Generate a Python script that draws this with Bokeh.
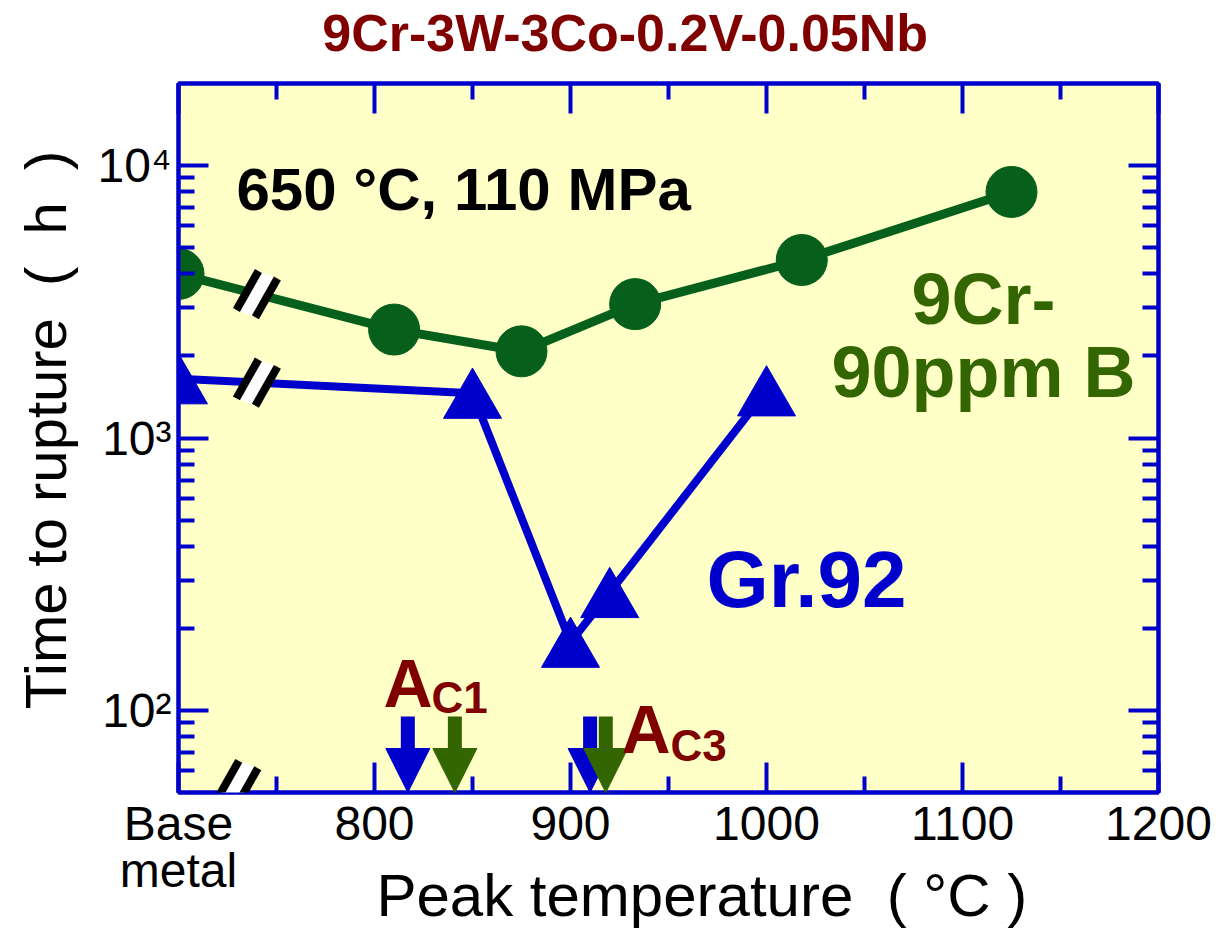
import math
from bokeh.plotting import figure
from bokeh.models import (FixedTicker, LinearAxis, LogAxis, Label, Arrow,
                          NormalHead, PolyAnnotation)
from bokeh.embed import file_html
from bokeh.resources import INLINE

# ---------------- data ----------------
green_temp = [700, 810, 875, 933, 1018, 1125]     # 9Cr-90ppm B (700 = base metal)
green_life = [4000, 2500, 2080, 3100, 4500, 8000]
blue_temp = [700, 850, 900, 920, 1000]             # Gr.92 (700 = base metal)
blue_life = [1650, 1460, 178, 271, 1490]
ac1_temp = [817, 841]   # [Gr.92, 9Cr-90ppm B]
ac3_temp = [910, 918]   # [Gr.92, 9Cr-90ppm B]
arrow_top = 95
x_major = [700, 800, 900, 1000, 1100, 1200]
x_tick_labels = ["Base\nmetal", "800", "900", "1000", "1100", "1200"]
x_minor = [750, 850, 950, 1050, 1150]
y_major = [100, 1000, 10000]
y_tick_labels = ["10²", "10³", "10⁴"]
y_minor = [60, 70, 80, 90, 200, 300, 400, 500, 600, 700, 800, 900,
           2000, 3000, 4000, 5000, 6000, 7000, 8000, 9000]

title_text = "9Cr-3W-3Co-0.2V-0.05Nb"
cond_text = "650 °C, 110 MPa"
NB = "\u00a0"
x_label = NB * 4 + "Peak temperature" + NB * 2 + "(" + NB + "°C" + NB + ")"
y_label = NB + "Time to rupture" + NB * 2 + "(" + NB * 2 + "h" + NB * 2 + ")"

# ---------------- style ----------------
BLUE = "#0000CC"
GREEN = "#065F1B"
OLIVE = "#336600"
DARKRED = "#800000"
BG = "#FFFFC8"
FONT = "Liberation Sans"

W, H = 1226, 934
FL, FT, FR, FB = 178, 81, 68, 142
FW, FH = W - FL - FR, H - FT - FB
X0, X1 = 700, 1200
Y0, Y1 = 50, 20000
L0, L1 = math.log10(Y0), math.log10(Y1)


def x_to_px(x):
    return FL + (x - X0) / (X1 - X0) * FW


def px_to_x(px):
    return X0 + (px - FL) / FW * (X1 - X0)


def y_to_px(y):
    return FT + (L1 - math.log10(y)) / (L1 - L0) * FH


def px_to_y(py):
    return 10 ** (L1 - (py - FT) / FH * (L1 - L0))


p = figure(width=W, height=H, x_range=(X0, X1), y_range=(Y0, Y1),
           y_axis_type="log", output_backend="svg", toolbar_location=None,
           title=None,
           min_border_left=FL, min_border_right=FR, min_border_top=FT,
           min_border_bottom=FB)
p.background_fill_color = BG
p.border_fill_color = "white"
p.outline_line_color = BLUE
p.outline_line_width = 4
p.xgrid.grid_line_color = None
p.ygrid.grid_line_color = None

xt = FixedTicker(ticks=x_major, minor_ticks=x_minor)
yt = FixedTicker(ticks=y_major, minor_ticks=y_minor)


def style_axis(ax):
    ax.axis_line_color = BLUE
    ax.axis_line_width = 4
    ax.major_tick_line_color = BLUE
    ax.major_tick_line_width = 4
    ax.major_tick_in = 30
    ax.major_tick_out = 0
    ax.minor_tick_line_color = BLUE
    ax.minor_tick_line_width = 4
    ax.minor_tick_in = 16
    ax.minor_tick_out = 0
    ax.major_label_text_font = FONT
    ax.major_label_text_font_size = "48px"
    ax.major_label_text_color = "black"
    ax.axis_label_text_font = FONT
    ax.axis_label_text_font_size = "58px"
    ax.axis_label_text_font_style = "normal"
    ax.axis_label_text_color = "black"


xa = p.xaxis[0]
xa.ticker = xt
style_axis(xa)
xa.major_label_overrides = dict(zip(x_major, x_tick_labels))
xa.major_label_text_line_height = 0.9
xa.major_label_standoff = 4
xa.axis_label = x_label
xa.axis_label_text_font_size = "60px"
xa.axis_label_standoff = -38

ya = p.yaxis[0]
ya.ticker = yt
style_axis(ya)
ya.major_label_overrides = dict(zip(y_major, y_tick_labels))
ya.major_label_standoff = 7
ya.axis_label = y_label
ya.axis_label_standoff = 16

# top axis: ticks only, carries the chart title as its label
top_ax = LinearAxis(ticker=xt)
style_axis(top_ax)
top_ax.major_label_overrides = {v: "" for v in x_major}
top_ax.major_label_text_font_size = "0px"
top_ax.major_label_standoff = 0
top_ax.axis_label = title_text + NB * 6
top_ax.axis_label_text_font_size = "52px"
top_ax.axis_label_text_font_style = "bold"
top_ax.axis_label_text_color = DARKRED
top_ax.axis_label_standoff = 22
p.add_layout(top_ax, "above")

right_ax = LogAxis(ticker=yt)
style_axis(right_ax)
right_ax.major_label_overrides = {v: "" for v in y_major}
right_ax.major_label_text_font_size = "0px"
right_ax.major_label_standoff = 0
p.add_layout(right_ax, "right")

# ---------------- series ----------------
p.line(green_temp, green_life, line_color=GREEN, line_width=9)
p.line(blue_temp, blue_life, line_color=BLUE, line_width=8)
p.scatter(green_temp, green_life, marker="circle", size=51,
          fill_color=GREEN, line_color=GREEN)
TRI = 58
tri_shift = 0.1443 * TRI   # put the triangle's box centre on the value
blue_marker_y = [px_to_y(y_to_px(v) + tri_shift) for v in blue_life]
p.scatter(blue_temp, blue_marker_y, marker="triangle", size=TRI,
          fill_color=BLUE, line_color=BLUE)


# ---------------- break marks ----------------
def break_mark(cx, cy):
    off = (9.5, 3.7)
    half = (11.0, -19.5)
    ln = math.hypot(*half)
    n = (-half[1] / ln * 4, half[0] / ln * 4)
    m1 = (cx - off[0], cy - off[1])
    m2 = (cx + off[0], cy + off[1])

    def poly(pts, color):
        p.add_layout(PolyAnnotation(xs=[px_to_x(a) for a, b in pts],
                                    ys=[px_to_y(b) for a, b in pts],
                                    fill_color=color, fill_alpha=1,
                                    line_color=None))
    poly([(m1[0] - half[0], m1[1] - half[1]), (m1[0] + half[0], m1[1] + half[1]),
          (m2[0] + half[0], m2[1] + half[1]), (m2[0] - half[0], m2[1] - half[1])],
         "white")
    for m in (m1, m2):
        poly([(m[0] - half[0] + n[0], m[1] - half[1] + n[1]),
              (m[0] + half[0] + n[0], m[1] + half[1] + n[1]),
              (m[0] + half[0] - n[0], m[1] + half[1] - n[1]),
              (m[0] - half[0] - n[0], m[1] - half[1] - n[1])], "black")


def on_line(xs, ys, x):
    f = (x - xs[0]) / (xs[1] - xs[0])
    return 10 ** (math.log10(ys[0]) + f * (math.log10(ys[1]) - math.log10(ys[0])))


BREAK_T = 740
break_mark(x_to_px(BREAK_T), y_to_px(on_line(green_temp, green_life, BREAK_T)))
break_mark(x_to_px(BREAK_T), y_to_px(on_line(blue_temp, blue_life, BREAK_T)))
break_mark(x_to_px(730), y_to_px(Y0) - 8.5)


# ---------------- transformation arrows ----------------
def add_arrow(t, c):
    p.add_layout(Arrow(end=NormalHead(size=44, fill_color=c, line_color=c, line_width=1),
                       x_start=t, y_start=arrow_top, x_end=t, y_end=Y0,
                       line_color=c, line_width=14))


for temps in (ac1_temp, ac3_temp):
    add_arrow(temps[0], BLUE)
for temps in (ac1_temp, ac3_temp):
    add_arrow(temps[1], OLIVE)


# ---------------- texts ----------------
def label(text, px, py, size, color, align="left", style="bold"):
    p.add_layout(Label(x=px_to_x(px), y=px_to_y(py), text=text,
                       text_font=FONT, text_font_size=f"{size}px",
                       text_font_style=style, text_color=color,
                       text_align=align, text_baseline="alphabetic"))


label(cond_text, 236, 187, 60, "black")
label("9Cr-", 983, 297, 72, OLIVE, "center")
label("90ppm B", 983, 370, 72, OLIVE, "center")
label("Gr.92", 806, 578, 80, BLUE, "center")
label("A", 383, 682, 68, DARKRED)
label("C1", 431, 697, 44, DARKRED)
label("A", 621, 728, 68, DARKRED)
label("C3", 670, 745, 44, DARKRED)

open("out.html", "w").write(file_html(p, INLINE))
